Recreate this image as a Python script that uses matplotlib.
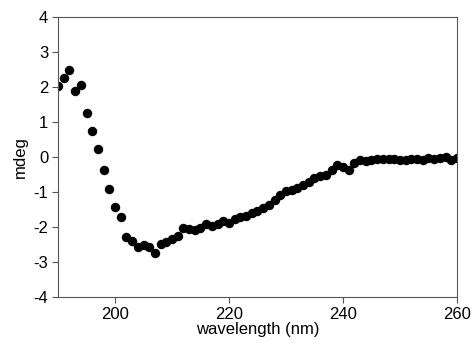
import matplotlib
matplotlib.use("Agg")
import matplotlib.pyplot as plt
import numpy as np

# CD spectrum, one reading per nm
wavelength = np.arange(190, 261)
mdeg = [2.03, 2.25, 2.48, 1.88, 2.07, 1.25, 0.75, 0.24, -0.38, -0.93,
        -1.42, -1.72, -2.28, -2.40, -2.57, -2.53, -2.58, -2.75, -2.50, -2.43,
        -2.35, -2.25, -2.02, -2.07, -2.10, -2.02, -1.93, -1.97, -1.92, -1.84,
        -1.90, -1.78, -1.72, -1.68, -1.60, -1.55, -1.45, -1.37, -1.24, -1.10,
        -0.98, -0.95, -0.88, -0.80, -0.72, -0.60, -0.55, -0.52, -0.38, -0.22,
        -0.28, -0.37, -0.16, -0.09, -0.13, -0.10, -0.07, -0.05, -0.07, -0.06,
        -0.10, -0.08, -0.06, -0.05, -0.10, -0.02, -0.05, -0.04, 0.00, -0.10,
        -0.04]

plt.rcParams['font.family'] = ['Liberation Sans', 'DejaVu Sans']
plt.rcParams['axes.unicode_minus'] = False

fig = plt.figure(figsize=(4.72, 3.48), dpi=100)
ax = fig.add_axes([0.123, 0.147, 0.845, 0.804])
ax.plot(wavelength, mdeg, 'o', color='black', markersize=6.8, markeredgewidth=0)

ax.set_xlim(190, 260)
ax.set_ylim(-4, 4)
ax.set_xticks([200, 220, 240, 260])
ax.set_yticks(range(-4, 5))
ax.tick_params(direction='out', length=4, width=0.8, color='#555555',
               labelsize=12, top=False, right=False, pad=3)
for s in ax.spines.values():
    s.set_color('#555555')
    s.set_linewidth(0.8)
ax.set_xlabel('wavelength (nm)', fontsize=12, labelpad=0)
ax.set_ylabel('mdeg', fontsize=12, labelpad=4)

fig.savefig('out.png', dpi=100)
